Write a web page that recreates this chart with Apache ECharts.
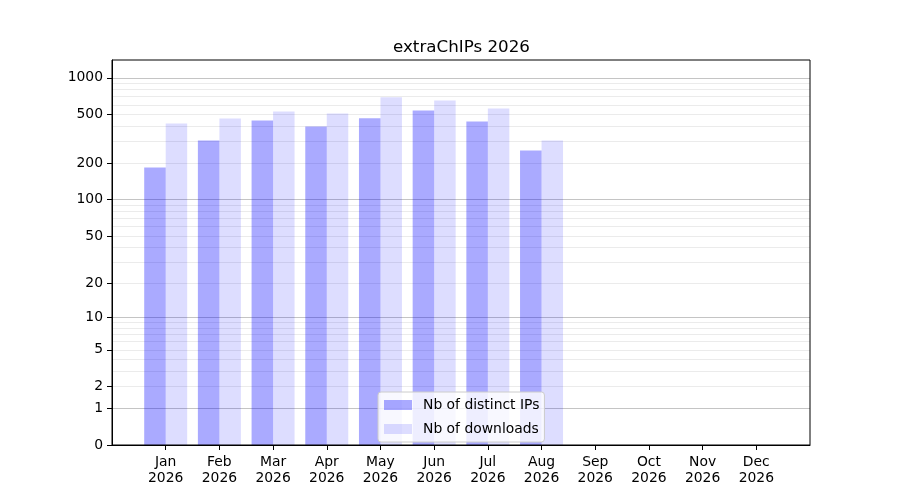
<!DOCTYPE html>
<html>
<head>
<meta charset="utf-8">
<script src="https://cdn.jsdelivr.net/npm/echarts@6/dist/echarts.min.js"></script>
<style>html,body{margin:0;padding:0;background:#fff;}#c{width:900px;height:500px;}</style>
</head>
<body>
<div id="c"></div>
<script>
var months = ['Jan','Feb','Mar','Apr','May','Jun','Jul','Aug','Sep','Oct','Nov','Dec'];
var yearLabel = '2026';
var distinctIPs = [184, 307, 447, 400, 466, 540, 439, 254];
var downloads = [423, 465, 530, 511, 695, 653, 561, 307];
var yTickValues = [0, 1, 2, 5, 10, 20, 50, 100, 200, 500, 1000];
var yMajorGrid = [1, 10, 100, 1000];
var yMinorGrid = [2,3,4,5,6,7,8,9,20,30,40,50,60,70,80,90,200,300,400,500,600,700,800,900];

function tf(v) { return Math.log10(v + 1); }
function inv(t) { return Math.round(Math.pow(10, t) - 1); }

var monthIdx = months.map(function (m, i) { return i; });
var FONT = 'DejaVu Sans';
var yMax = 3.146;

function hiddenY(values, color) {
  return {
    type: 'value', min: 0, max: yMax, z: 1, position: 'left',
    axisLine: { show: false, onZero: false }, axisLabel: { show: false, customValues: values.map(tf) },
    axisTick: { show: false, customValues: values.map(tf) },
    splitLine: { show: true, lineStyle: { color: color, width: 1 } }
  };
}

var chart = echarts.init(document.getElementById('c'), null, { renderer: 'canvas' });
chart.setOption({
  animation: false,
  backgroundColor: '#ffffff',
  title: {
    text: 'extraChIPs 2026', left: 388, top: 34,
    textStyle: { fontFamily: FONT, fontSize: 16.7, fontWeight: 'normal', color: '#000' }
  },
  grid: { left: 112, right: 90, top: 60, bottom: 55, show: true, borderColor: '#000', borderWidth: 1, backgroundColor: 'transparent', z: 5 },
  legend: {
    orient: 'vertical', left: 378, top: 392,
    data: ['Nb of distinct IPs', 'Nb of downloads'],
    icon: 'rect', itemWidth: 28, itemHeight: 10, itemGap: 10,
    padding: [6, 5, 6, 6],
    backgroundColor: 'rgba(255,255,255,0.8)', borderColor: '#cccccc', borderWidth: 1, borderRadius: 3,
    textStyle: { fontFamily: FONT, fontSize: 13.9, color: '#000', padding: [0, 0, 0, 6] },
    z: 10
  },
  xAxis: {
    type: 'value', min: -1, max: 12, interval: 1,
    axisLine: { show: true, onZero: false, lineStyle: { color: '#000', width: 1 } },
    axisTick: { show: true, length: 5, customValues: monthIdx, lineStyle: { color: '#000' } },
    axisLabel: {
      customValues: monthIdx, margin: 9, fontFamily: FONT, fontSize: 13.9, color: '#000', lineHeight: 16,
      formatter: function (v) { return months[v] + '\n' + yearLabel; }
    },
    splitLine: { show: false }
  },
  yAxis: [
    {
      type: 'value', min: 0, max: yMax, z: 6, position: 'left',
      axisLine: { show: true, onZero: false, lineStyle: { color: '#000', width: 1 } },
      axisTick: { show: true, length: 5, customValues: yTickValues.map(tf), lineStyle: { color: '#000' } },
      axisLabel: {
        customValues: yTickValues.map(tf), margin: 9, fontFamily: FONT, fontSize: 13.9, color: '#000',
        formatter: function (t) { return String(inv(t)); }
      },
      splitLine: { show: false }
    },
    hiddenY(yMinorGrid, '#ebebeb'),
    hiddenY(yMajorGrid, '#c4c4c4')
  ],
  series: [
    {
      name: 'Nb of distinct IPs', type: 'bar', yAxisIndex: 0, barWidth: 21.5, barGap: '0%',
      itemStyle: { color: 'rgba(0,0,255,0.333)' }, z: 3,
      data: distinctIPs.map(function (v, i) { return [i, tf(v)]; })
    },
    {
      name: 'Nb of downloads', type: 'bar', yAxisIndex: 0, barWidth: 21.5, barGap: '0%',
      itemStyle: { color: 'rgba(0,0,255,0.133)' }, z: 3,
      data: downloads.map(function (v, i) { return [i, tf(v)]; })
    }
  ]
});
</script>
</body>
</html>
